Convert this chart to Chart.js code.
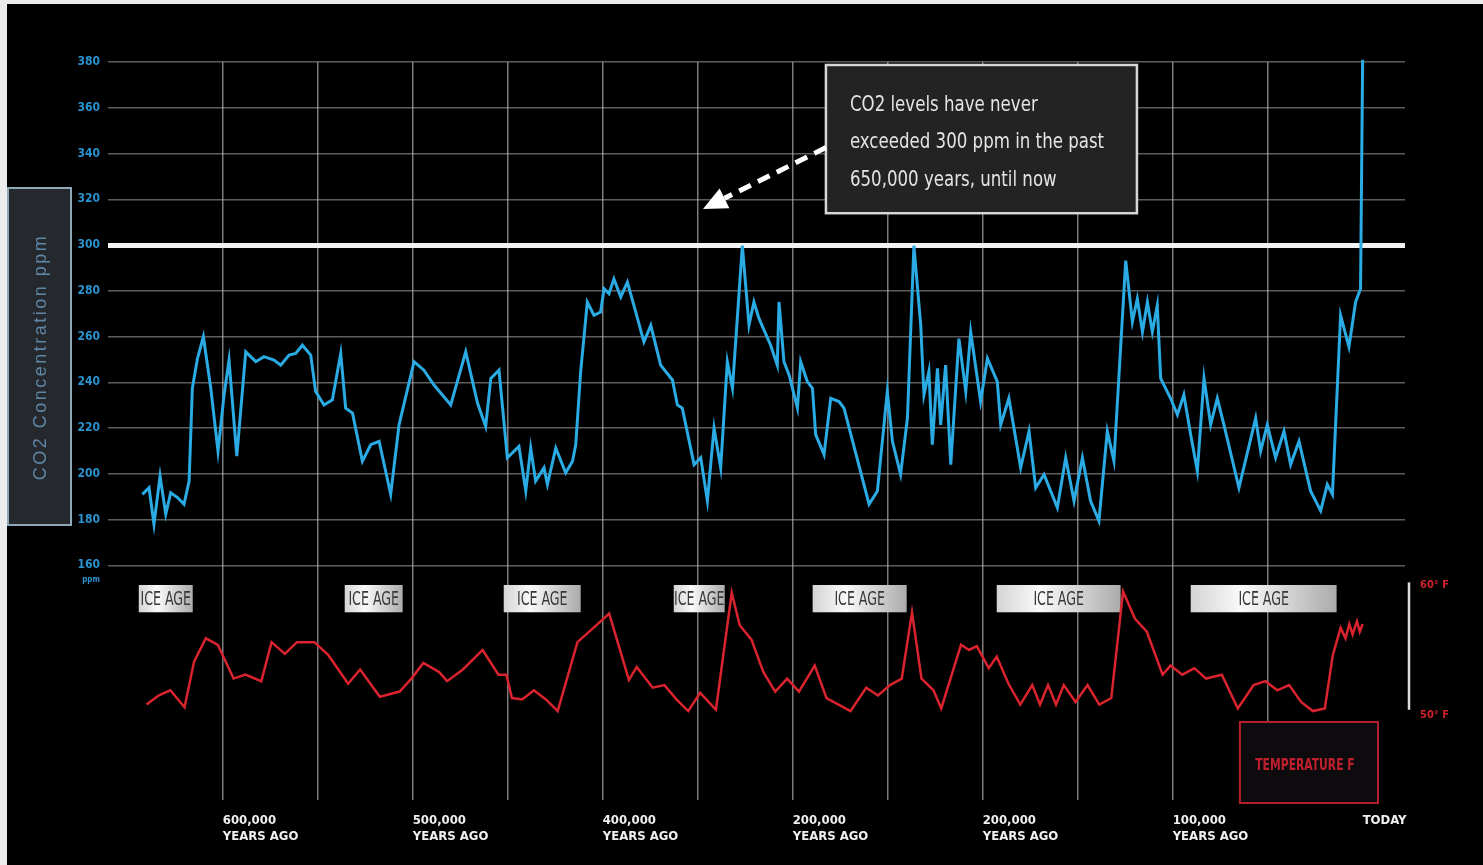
<!DOCTYPE html>
<html>
<head>
<meta charset="utf-8">
<title>CO2 levels over 650,000 years</title>
<script src="https://cdn.jsdelivr.net/npm/chart.js@4.4.1/dist/chart.umd.min.js"></script>
<style>
  html, body { margin: 0; padding: 0; background: #000; overflow: hidden; }
  #wrap { position: relative; width: 1483px; height: 865px; }
</style>
</head>
<body>
<div id="wrap"><canvas id="chart" width="1483" height="865"></canvas></div>
<script>
// thousands of years ago / CO2 in ppm
const co2Kyr = [642.3,638.8,636.2,633.0,630.0,627.4,623.8,620.4,617.7,616.0,613.3,610.2,606.3,602.5,599.3,596.7,592.6,587.9,585.3,582.6,
  578.3,573.0,569.5,565.1,561.6,558.1,553.7,551.1,546.7,542.3,537.9,535.3,531.7,526.5,522.1,517.7,511.6,507.2,499.3,494.1,
  488.8,480.0,472.1,465.9,461.6,458.9,454.6,450.2,444.1,440.5,437.9,435.3,430.9,429.1,424.7,419.5,415.9,414.2,411.6,408.1,
  404.6,401.1,399.3,396.7,394.1,390.5,387.0,382.6,378.3,374.7,369.5,363.3,360.7,358.1,351.9,348.4,344.9,341.4,337.9,334.4,
  331.7,326.5,323.0,320.4,317.7,311.6,308.1,307.2,304.6,301.9,297.5,295.8,292.3,289.6,287.9,283.5,280.0,275.6,273.0,259.8,
  255.4,250.2,247.5,243.2,239.6,236.2,232.6,230.9,228.3,226.5,223.8,222.1,219.5,216.8,212.5,208.9,206.3,201.1,197.5,192.3,
  190.5,186.2,180.0,175.6,172.1,167.7,160.7,156.3,151.9,147.5,143.2,138.8,134.4,130.9,124.7,121.2,118.6,115.9,113.3,110.7,
  108.1,106.3,101.1,97.5,94.1,90.5,87.0,83.5,80.0,76.5,73.0,65.1,56.3,53.7,50.2,45.8,41.4,37.9,33.5,27.4,
  22.1,18.6,15.9,11.6,7.2,3.7,1.1,0.0];
const co2Ppm = [191.0,193.9,178.0,199.0,182.3,191.7,189.6,186.7,196.8,237.4,250.4,259.9,237.4,209.9,234.5,249.7,207.7,253.3,251.2,249.0,
  251.2,249.7,247.5,251.9,252.6,256.2,251.9,236.0,230.1,232.3,252.6,228.7,226.5,205.5,212.7,214.2,191.0,221.4,249.0,245.3,
  238.8,230.1,253.3,230.9,220.7,241.7,245.3,207.0,212.0,192.5,211.3,196.8,202.6,195.3,211.3,200.4,205.5,212.7,244.7,275.1,
  269.3,270.7,280.9,278.7,285.2,277.3,283.8,270.7,257.7,264.9,247.5,241.0,230.1,228.7,204.0,207.0,188.1,220.0,202.6,249.0,
  237.4,299.7,264.9,275.1,267.8,256.2,247.5,275.1,249.0,243.2,228.7,249.0,240.3,237.4,217.1,208.4,233.0,231.6,228.7,186.7,
  192.5,236.0,214.2,199.7,224.3,299.7,264.9,234.5,244.7,212.7,246.1,221.4,247.5,204.0,259.1,236.0,262.0,231.6,250.4,240.3,
  221.4,233.0,202.6,218.6,193.9,199.7,185.2,207.0,188.1,207.0,188.1,179.4,218.6,205.5,293.2,266.4,276.5,262.0,275.1,262.0,
  273.6,241.7,233.0,225.8,234.5,217.1,201.2,241.7,221.4,233.0,221.4,193.9,224.3,209.9,221.4,207.0,218.6,204.0,214.2,192.5,
  183.8,195.3,191.0,269.3,255.5,275.1,280.9,381.0];

// thousands of years ago / temperature in °F
const tempKyr = [640.1,633.8,627.6,620.1,615.1,608.9,602.6,594.3,588.1,579.7,574.3,567.3,561.0,551.8,544.4,534.0,527.7,517.3,506.9,500.7,
  494.4,486.1,481.9,473.6,463.2,454.9,450.7,447.8,442.4,436.2,429.9,423.7,413.3,404.9,396.6,386.2,382.1,373.7,367.5,361.2,
  355.0,348.7,340.4,332.1,327.9,321.7,315.4,309.2,302.9,296.7,288.4,282.2,269.6,261.3,255.1,248.8,242.6,237.2,232.2,225.9,
  221.8,211.4,207.2,203.1,196.8,192.6,186.4,180.2,173.9,169.8,165.6,161.4,157.3,151.1,144.8,138.6,132.3,126.1,119.8,113.6,
  105.3,101.1,94.9,88.6,82.4,74.1,65.7,57.4,51.2,44.9,38.7,32.4,26.2,19.9,15.7,11.6,9.0,7.0,5.3,3.0,1.5,0.0];
const tempF = [50.8,51.5,51.9,50.6,54.1,55.9,55.4,52.8,53.1,52.6,55.6,54.7,55.6,55.6,54.6,52.4,53.5,51.4,51.8,52.8,
  54.0,53.3,52.6,53.5,55.0,53.1,53.1,51.3,51.2,51.9,51.2,50.3,55.6,56.7,57.8,52.7,53.7,52.1,52.3,51.2,
  50.3,51.7,50.4,59.4,56.9,55.8,53.3,51.8,52.8,51.8,53.8,51.3,50.3,52.1,51.5,52.3,52.8,57.9,52.8,51.9,
  50.5,55.4,55.0,55.3,53.6,54.5,52.4,50.8,52.3,50.8,52.3,50.8,52.3,51.0,52.3,50.8,51.3,59.5,57.4,56.4,
  53.1,53.8,53.1,53.6,52.8,53.1,50.5,52.3,52.6,51.9,52.3,51.0,50.3,50.5,54.6,56.7,55.9,57.0,56.2,57.2,56.4,57.0];

// axes
const ppmTicks = [160, 180, 200, 220, 240, 260, 280, 300, 320, 340, 360, 380];
const gridKyr = [0, 50, 100, 150, 200, 250, 300, 350, 400, 450, 500, 550, 600];
const labelKyr = [600, 500, 400, 300, 200, 100, 0];
const labelText = ['600,000', '500,000', '400,000', '200,000', '200,000', '100,000', 'TODAY'];
const tempTicks = [50, 60];

// ice age bands (kyr ago)
const iceFrom = [644.2, 535.8, 452.1, 362.6, 289.5, 192.6, 90.5];
const iceTo = [615.8, 505.3, 411.6, 335.8, 240.0, 127.4, 13.7];

const narrow = "'Liberation Sans Narrow','DejaVu Sans Condensed','Liberation Sans',sans-serif";

const decor = {
  id: 'decor',
  beforeDraw(chart) {
    const c = chart.ctx;
    c.save();
    c.fillStyle = '#000';
    c.fillRect(0, 0, chart.width, chart.height);
    c.fillStyle = '#ececec';
    c.fillRect(0, 0, chart.width, 4);
    c.fillRect(0, 0, 7, chart.height);
    c.restore();
  },
  beforeDatasetsDraw(chart) {
    const c = chart.ctx, xs = chart.scales.x, ts = chart.scales.yT;
    c.save();
    const top = ts.getPixelForValue(60), bot = ts.getPixelForValue(57.9);
    iceFrom.forEach((k, i) => {
      const a = xs.getPixelForValue(k), b = xs.getPixelForValue(iceTo[i]);
      const g = c.createLinearGradient(a, 0, b, 0);
      g.addColorStop(0, '#d4d4d4');
      g.addColorStop(0.35, '#fafafa');
      g.addColorStop(1, '#ababab');
      c.fillStyle = g;
      c.fillRect(a, top, b - a, bot - top);
      c.save();
      c.translate((a + b) / 2, (top + bot) / 2 + 1);
      c.scale(0.7, 1);
      c.fillStyle = '#383838';
      c.font = '20px ' + narrow;
      c.textAlign = 'center';
      c.textBaseline = 'middle';
      c.fillText('ICE AGE', 0, 0);
      c.restore();
    });
    // temperature range bar
    c.strokeStyle = '#dcdcdc';
    c.lineWidth = 2.5;
    c.beginPath();
    c.moveTo(chart.chartArea.right + 4, ts.getPixelForValue(60.2));
    c.lineTo(chart.chartArea.right + 4, ts.getPixelForValue(50.4));
    c.stroke();
    c.restore();
  },
  afterDatasetsDraw(chart) {
    const c = chart.ctx, xs = chart.scales.x, ys = chart.scales.y;
    c.save();
    // note box
    const l = xs.getPixelForValue(282.5), r = xs.getPixelForValue(118.8);
    const t = ys.getPixelForValue(378.7), b = ys.getPixelForValue(313.9);
    c.fillStyle = '#232323';
    c.fillRect(l, t, r - l, b - t);
    c.strokeStyle = '#d6d6d6';
    c.lineWidth = 2.5;
    c.strokeRect(l, t, r - l, b - t);
    const lines = ['CO2 levels have never', 'exceeded 300 ppm in the past', '650,000 years, until now'];
    c.fillStyle = '#e4e4e4';
    c.font = '22px ' + narrow;
    c.textBaseline = 'middle';
    lines.forEach((s, i) => {
      c.save();
      c.translate(l + 24, t + 40 + i * 37.5);
      c.scale(0.84, 1);
      c.fillText(s, 0, 0);
      c.restore();
    });
    // dashed arrow
    const x1 = l, y1 = ys.getPixelForValue(342.6);
    const x2 = xs.getPixelForValue(347.2), y2 = ys.getPixelForValue(315.7);
    const ang = Math.atan2(y2 - y1, x2 - x1);
    const head = 24;
    const bx = x2 - head * Math.cos(ang), by = y2 - head * Math.sin(ang);
    c.strokeStyle = '#ffffff';
    c.lineWidth = 5;
    c.setLineDash([13, 8]);
    c.beginPath();
    c.moveTo(x1, y1);
    c.lineTo(bx, by);
    c.stroke();
    c.setLineDash([]);
    c.fillStyle = '#ffffff';
    c.beginPath();
    c.moveTo(x2, y2);
    c.lineTo(bx + 11 * Math.sin(ang), by - 11 * Math.cos(ang));
    c.lineTo(bx - 11 * Math.sin(ang), by + 11 * Math.cos(ang));
    c.closePath();
    c.fill();
    c.restore();
  },
  afterDraw(chart) {
    const c = chart.ctx, xs = chart.scales.x, ys = chart.scales.y, ts = chart.scales.yT;
    c.save();
    // axis title box
    c.fillStyle = '#25292d';
    c.fillRect(8, 188, 63, 337);
    c.strokeStyle = '#8ea8b8';
    c.lineWidth = 2;
    c.strokeRect(8, 188, 63, 337);
    c.save();
    c.translate(41, 357);
    c.rotate(-Math.PI / 2);
    c.fillStyle = '#5f86a6';
    c.font = "18px 'Liberation Sans',sans-serif";
    if ('letterSpacing' in c) c.letterSpacing = '2.5px';
    c.textAlign = 'center';
    c.textBaseline = 'middle';
    c.fillText('CO2 Concentration ppm', 0, 0);
    c.restore();
    // unit under the last tick
    c.fillStyle = '#2a8fcc';
    c.font = 'bold 8px ' + narrow;
    c.textAlign = 'right';
    c.textBaseline = 'middle';
    c.fillText('ppm', chart.chartArea.left - 8, ys.getPixelForValue(160) + 15);
    // temperature legend box
    const l = xs.getPixelForValue(64.6), r = xs.getPixelForValue(-8.1);
    const t = ts.getPixelForValue(49.46), b = t + 81;
    c.fillStyle = '#0d0b0d';
    c.fillRect(l, t, r - l, b - t);
    c.strokeStyle = '#b3202b';
    c.lineWidth = 2;
    c.strokeRect(l, t, r - l, b - t);
    c.save();
    c.translate((l + r) / 2 - 4, (t + b) / 2 + 4);
    c.scale(0.8, 1);
    c.fillStyle = '#c0202c';
    c.font = 'bold 15px ' + narrow;
    c.textAlign = 'center';
    c.textBaseline = 'middle';
    c.fillText('TEMPERATURE F', 0, 0);
    c.restore();
    c.restore();
  }
};

new Chart(document.getElementById('chart'), {
  type: 'line',
  data: {
    datasets: [
      {
        label: 'CO2 ppm',
        data: co2Kyr.map((k, i) => ({ x: k, y: co2Ppm[i] })),
        yAxisID: 'y',
        borderColor: '#2aabe4',
        borderWidth: 3,
        pointRadius: 0,
        tension: 0,
        clip: false
      },
      {
        label: 'Temperature',
        data: tempKyr.map((k, i) => ({ x: k, y: tempF[i] })),
        yAxisID: 'yT',
        borderColor: '#d9232e',
        borderWidth: 2.5,
        pointRadius: 0,
        tension: 0,
        clip: false
      }
    ]
  },
  options: {
    responsive: false,
    animation: false,
    layout: { padding: { top: 62, left: 0, right: 0, bottom: 0 } },
    plugins: { legend: { display: false }, tooltip: { enabled: false } },
    scales: {
      x: {
        type: 'linear',
        reverse: true,
        min: -22.3,
        max: 660.4,
        afterBuildTicks: s => { s.ticks = gridKyr.map(v => ({ value: v })); },
        afterFit: s => { s.height = 65; },
        border: { display: false },
        grid: {
          drawTicks: false,
          lineWidth: 1.5,
          color: ctx => (ctx.tick && ctx.tick.value > 0) ? 'rgba(205,205,205,0.6)' : 'rgba(0,0,0,0)'
        },
        ticks: {
          autoSkip: false,
          maxRotation: 0,
          align: 'start',
          padding: 12,
          color: '#f0f0f0',
          font: { family: narrow, size: 13, weight: 'bold', lineHeight: 1.25 },
          callback: v => {
            const i = labelKyr.indexOf(v);
            if (i < 0) return '';
            return v === 0 ? [labelText[i]] : [labelText[i], 'YEARS AGO'];
          }
        }
      },
      y: {
        position: 'left',
        min: 57.4,
        max: 380,
        afterBuildTicks: s => { s.ticks = ppmTicks.map(v => ({ value: v })); },
        afterFit: s => { s.width = 108; },
        border: { display: false },
        grid: {
          drawTicks: false,
          color: ctx => (ctx.tick && ctx.tick.value === 300) ? '#f2f2f2' : 'rgba(185,185,185,0.5)',
          lineWidth: ctx => (ctx.tick && ctx.tick.value === 300) ? 5 : 1.5
        },
        ticks: {
          color: '#2a93d0',
          padding: 8,
          font: { family: narrow, size: 12, weight: 'bold' }
        }
      },
      yT: {
        position: 'right',
        min: 43.46,
        max: 100.23,
        afterBuildTicks: s => { s.ticks = tempTicks.map(v => ({ value: v })); },
        afterFit: s => { s.width = 78; },
        border: { display: false },
        grid: { display: false, drawTicks: false },
        ticks: {
          color: '#d0232d',
          padding: 15,
          font: { family: narrow, size: 11, weight: 'bold' },
          callback: v => v + '° F'
        }
      }
    }
  },
  plugins: [decor]
});
</script>
</body>
</html>
